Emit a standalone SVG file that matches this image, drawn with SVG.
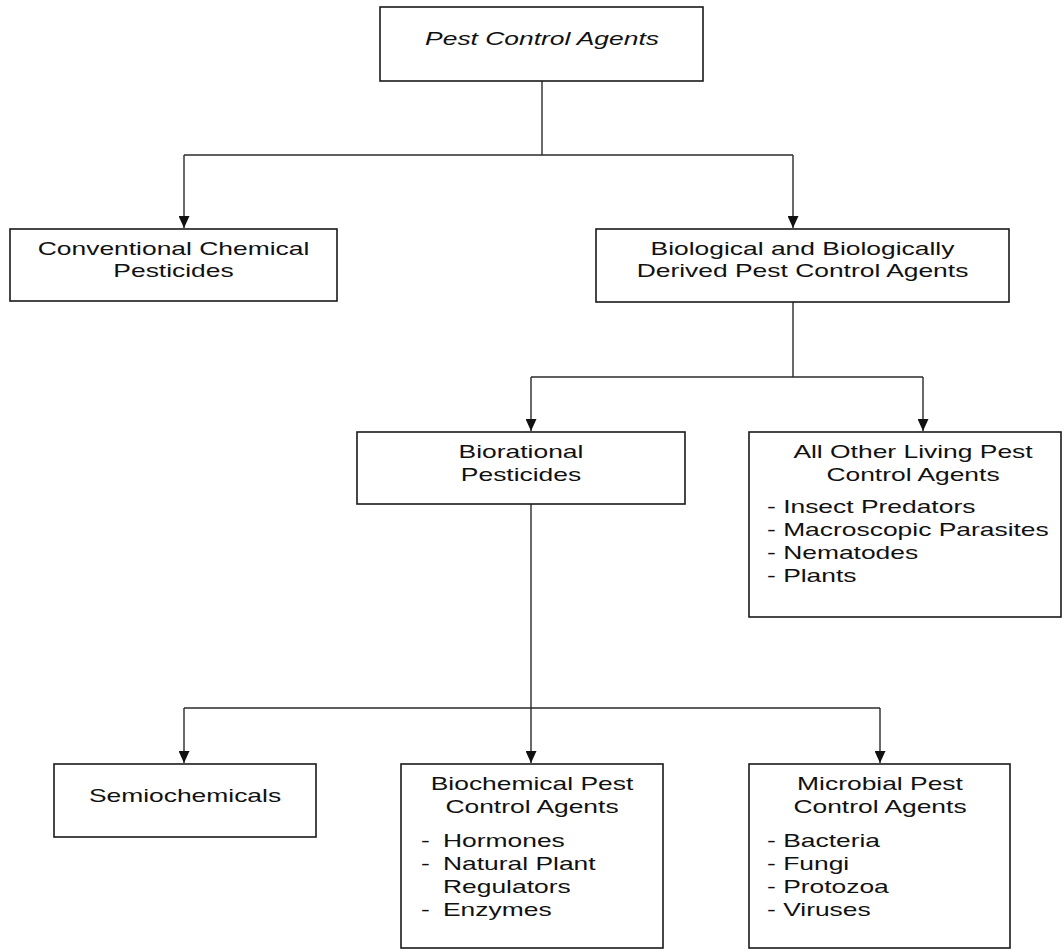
<svg xmlns="http://www.w3.org/2000/svg" width="1063" height="950" viewBox="0 0 1063 950">
<style>
.box{fill:#fff;stroke:#1a1a1a;stroke-width:1.6}
.ln{fill:none;stroke:#2a2a2a;stroke-width:1.4}
text{font-family:"Liberation Sans",Arial,sans-serif;font-size:19px;fill:#111}
.c{text-anchor:middle}
.i{font-style:italic}
</style>
<defs>
<marker id="ah" viewBox="0 0 12 11" refX="12" refY="5.5" markerWidth="12" markerHeight="11" markerUnits="userSpaceOnUse" orient="auto">
<path d="M0,0 L12,5.5 L0,11 Z" fill="#111"/>
</marker>
</defs>
<g id="connectors">
<path class="ln" d="M542,81 V155"/>
<path class="ln" d="M184,155 H793"/>
<path class="ln" d="M184,155 V228" marker-end="url(#ah)"/>
<path class="ln" d="M793,155 V228" marker-end="url(#ah)"/>
<path class="ln" d="M793,302 V377"/>
<path class="ln" d="M531,377 H923"/>
<path class="ln" d="M531,377 V431" marker-end="url(#ah)"/>
<path class="ln" d="M923,377 V431" marker-end="url(#ah)"/>
<path class="ln" d="M531,504 V708"/>
<path class="ln" d="M184,708 H880"/>
<path class="ln" d="M184,708 V763" marker-end="url(#ah)"/>
<path class="ln" d="M531,708 V763" marker-end="url(#ah)"/>
<path class="ln" d="M880,708 V763" marker-end="url(#ah)"/>
</g>
<g id="root">
<rect class="box" x="380" y="7" width="323" height="74"/>
<text class="c i" transform="translate(542,45) scale(1.39,1)">Pest Control Agents</text>
</g>
<g id="conventional">
<rect class="box" x="10" y="229" width="327" height="72"/>
<text class="c" transform="translate(173.5,255) scale(1.39,1)">Conventional Chemical</text>
<text class="c" transform="translate(173.5,277) scale(1.39,1)">Pesticides</text>
</g>
<g id="biological">
<rect class="box" x="596" y="229" width="413" height="73"/>
<text class="c" transform="translate(802.5,255) scale(1.39,1)">Biological and Biologically</text>
<text class="c" transform="translate(802.5,277) scale(1.39,1)">Derived Pest Control Agents</text>
</g>
<g id="biorational">
<rect class="box" x="357" y="432" width="328" height="72"/>
<text class="c" transform="translate(521,458) scale(1.39,1)">Biorational</text>
<text class="c" transform="translate(521,481) scale(1.39,1)">Pesticides</text>
</g>
<g id="other-living">
<rect class="box" x="749" y="432" width="312" height="185"/>
<text class="c" transform="translate(913,458) scale(1.39,1)">All Other Living Pest</text>
<text class="c" transform="translate(913,481) scale(1.39,1)">Control Agents</text>
<text transform="translate(767,513) scale(1.39,1)">- Insect Predators</text>
<text transform="translate(767,536) scale(1.39,1)">- Macroscopic Parasites</text>
<text transform="translate(767,559) scale(1.39,1)">- Nematodes</text>
<text transform="translate(767,582) scale(1.39,1)">- Plants</text>
</g>
<g id="semiochemicals">
<rect class="box" x="54" y="764" width="262" height="73"/>
<text class="c" transform="translate(185,802) scale(1.39,1)">Semiochemicals</text>
</g>
<g id="biochemical">
<rect class="box" x="401" y="764" width="262" height="184"/>
<text class="c" transform="translate(532,790) scale(1.39,1)">Biochemical Pest</text>
<text class="c" transform="translate(532,813) scale(1.39,1)">Control Agents</text>
<text transform="translate(421,847) scale(1.39,1)">-</text>
<text transform="translate(443,847) scale(1.39,1)">Hormones</text>
<text transform="translate(421,870) scale(1.39,1)">-</text>
<text transform="translate(443,870) scale(1.39,1)">Natural Plant</text>
<text transform="translate(443,893) scale(1.39,1)">Regulators</text>
<text transform="translate(421,916) scale(1.39,1)">-</text>
<text transform="translate(443,916) scale(1.39,1)">Enzymes</text>
</g>
<g id="microbial">
<rect class="box" x="749" y="764" width="261" height="184"/>
<text class="c" transform="translate(880,790) scale(1.39,1)">Microbial Pest</text>
<text class="c" transform="translate(880,813) scale(1.39,1)">Control Agents</text>
<text transform="translate(767,847) scale(1.39,1)">- Bacteria</text>
<text transform="translate(767,870) scale(1.39,1)">- Fungi</text>
<text transform="translate(767,893) scale(1.39,1)">- Protozoa</text>
<text transform="translate(767,916) scale(1.39,1)">- Viruses</text>
</g>
</svg>
